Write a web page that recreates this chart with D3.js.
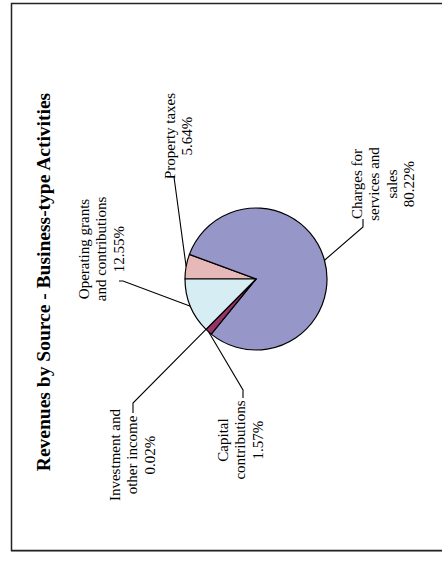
<!DOCTYPE html>
<html>
<head>
<meta charset="utf-8">
<script src="https://cdn.jsdelivr.net/npm/d3@7"></script>
<style>
  body { margin: 0; background: #fff; }
  svg { display: block; }
</style>
</head>
<body>
<svg id="chart"></svg>
<script>
// data, in drawing order (clockwise from the left side of the pie)
const categories = ["Property taxes", "Charges for services and sales", "Capital contributions",
                    "Investment and other income", "Operating grants and contributions"];
const shares = [5.64, 80.22, 1.57, 0.02, 12.55];
const labelLines = [
  ["Property taxes"],
  ["Charges for", "services and", "sales"],
  ["Capital", "contributions"],
  ["Investment and", "other income"],
  ["Operating grants", "and contributions"]
];
const title = "Revenues by Source - Business-type Activities";

const sliceColors = ["#e6b9b8", "#9696c8", "#993366", "#ffffcc", "#d5edf3"];

const ctx = {
  width: 442,
  height: 563,
  cx: 256,
  cy: 279,
  r: 71,
  pitch: 17.3,
  font: "'Times New Roman', 'Liberation Serif', serif",
  // x = baseline of first line, y = centre along the text, hook = leader end near label
  labels: [
    { x: 175, y: 136, hook: [[174, 177], [167, 177]] },
    { x: 362, y: 184, hook: [[363, 227], [363, 219]] },
    { x: 228, y: 440, hook: [[243, 390], [243, 398]] },
    { x: 120, y: 455, hook: [[133, 403], [133, 413]] },
    { x: 89,  y: 249, hook: [[123, 281], [119, 281]] }
  ]
};

const svg = d3.select("#chart")
  .attr("width", ctx.width)
  .attr("height", ctx.height);

// frame
svg.append("path")
  .attr("d", `M${ctx.width + 2},3.5 H11.5 V550.5 H${ctx.width + 2}`)
  .attr("fill", "none")
  .attr("stroke", "#222")
  .attr("stroke-width", 1.5);
svg.append("line")
  .attr("x1", 11).attr("x2", ctx.width)
  .attr("y1", 551.5).attr("y2", 551.5)
  .attr("stroke", "#888")
  .attr("stroke-width", 1);

// title, rotated
svg.append("text")
  .attr("transform", `translate(49.5, 282) rotate(-90)`)
  .attr("text-anchor", "middle")
  .style("font-family", ctx.font)
  .style("font-size", "19.5px")
  .style("font-weight", "bold")
  .attr("fill", "#000")
  .text(title);

const pie = d3.pie()
  .sort(null)
  .value(d => d)
  .startAngle(-Math.PI / 2)
  .endAngle(1.5 * Math.PI);

const arcs = pie(shares);
const arc = d3.arc().innerRadius(0).outerRadius(ctx.r);

const pieG = svg.append("g")
  .attr("transform", `translate(${ctx.cx}, ${ctx.cy})`);

pieG.selectAll("path.slice")
  .data(arcs)
  .enter()
  .append("path")
    .attr("class", "slice")
    .attr("d", arc)
    .attr("fill", (d, i) => sliceColors[i])
    .attr("stroke", "#000")
    .attr("stroke-width", 1.2)
    .attr("stroke-linejoin", "round");

// leader lines: from mid angle on the rim to the label hook
const pct = d3.format(".2f");
const line = d3.line();

svg.selectAll("path.leader")
  .data(arcs)
  .enter()
  .append("path")
    .attr("class", "leader")
    .attr("d", (d, i) => {
      const a = (d.startAngle + d.endAngle) / 2;
      const start = [ctx.cx + ctx.r * Math.sin(a), ctx.cy - ctx.r * Math.cos(a)];
      return line([start].concat(ctx.labels[i].hook));
    })
    .attr("fill", "none")
    .attr("stroke", "#000")
    .attr("stroke-width", 1.1);

// labels, rotated like the whole chart
const labelG = svg.selectAll("g.label")
  .data(arcs)
  .enter()
  .append("g")
    .attr("class", "label")
    .attr("transform", (d, i) => `translate(${ctx.labels[i].x}, ${ctx.labels[i].y}) rotate(-90)`);

labelG.append("text")
  .attr("text-anchor", "middle")
  .style("font-family", ctx.font)
  .style("font-size", "15px")
  .attr("fill", "#000")
  .selectAll("tspan")
  .data((d, i) => labelLines[i].concat([pct(d.data) + "%"]))
  .enter()
  .append("tspan")
    .attr("x", 0)
    .attr("y", (t, j) => j * ctx.pitch)
    .text(t => t);
</script>
</body>
</html>
